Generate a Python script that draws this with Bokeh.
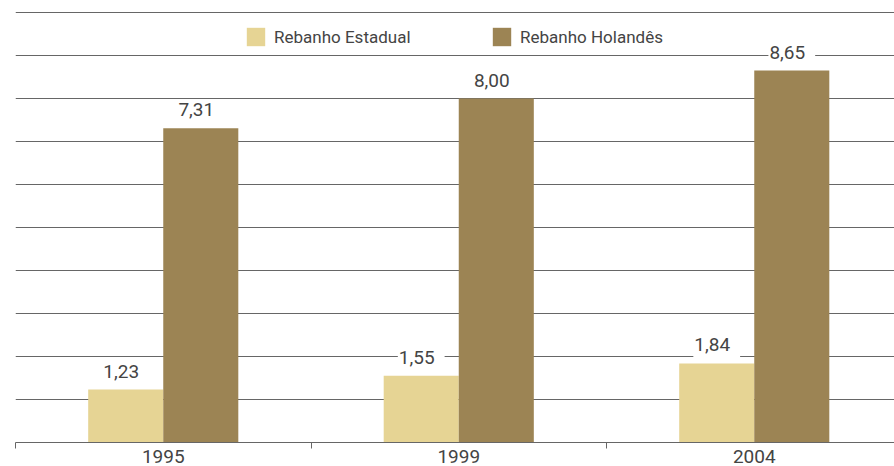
from bokeh.plotting import figure
from bokeh.models import ColumnDataSource, Range1d, FixedTicker, Legend, LegendItem
from bokeh.core.properties import value
from bokeh.embed import file_html
from bokeh.resources import INLINE

years = ["1995", "1999", "2004"]
estadual = [1.23, 1.55, 1.84]
holandes = [7.31, 8.00, 8.65]
series_names = ["Rebanho Estadual", "Rebanho Holandês"]
grid_values = [1, 2, 3, 4, 5, 6, 7, 8, 9, 10]

C_EST = "#e6d494"
C_HOL = "#9c8454"
FONT = "Roboto"
TXT = "#444444"
GRID = "#666666"

idx = list(range(len(years)))
bw = 0.254

src_e = ColumnDataSource(dict(x=[i - bw / 2 for i in idx], top=estadual,
                              lab=[f"{v:.2f}".replace(".", ",") for v in estadual]))
src_h = ColumnDataSource(dict(x=[i + bw / 2 for i in idx], top=holandes,
                              lab=[f"{v:.2f}".replace(".", ",") for v in holandes]))

p = figure(width=894, height=466, output_backend="svg", toolbar_location=None,
           x_range=Range1d(-0.5, 2.4746), y_range=Range1d(0, 10.28),
           min_border_left=15, min_border_right=0, min_border_top=0, min_border_bottom=24)
p.outline_line_color = None
p.background_fill_color = "white"
p.border_fill_color = "white"

p.xgrid.visible = False
p.yaxis.visible = False
p.ygrid.ticker = FixedTicker(ticks=grid_values)
p.ygrid.grid_line_color = GRID
p.ygrid.grid_line_width = 1

ax = p.xaxis[0]
ax.ticker = FixedTicker(ticks=idx, minor_ticks=[-0.5, 0.5, 1.5, 2.5])
ax.major_label_overrides = {i: y for i, y in zip(idx, years)}
ax.major_tick_line_color = None
ax.minor_tick_out = 6
ax.minor_tick_in = 0
ax.minor_tick_line_color = GRID
ax.axis_line_color = GRID
ax.axis_line_width = 1.2
ax.major_label_text_font = FONT
ax.major_label_text_font_size = "19px"
ax.major_label_text_color = TXT
ax.major_label_standoff = 1

r_e = p.vbar(x="x", top="top", width=bw, bottom=0, source=src_e,
             fill_color=C_EST, line_color=None)
r_h = p.vbar(x="x", top="top", width=bw, bottom=0, source=src_h,
             fill_color=C_HOL, line_color=None)

for src in (src_e, src_h):
    p.text(x="x", y="top", text="lab", source=src, text_align="center",
           text_baseline="bottom", y_offset=-2, text_font=value(FONT),
           text_font_size="19px", text_color=TXT,
           background_fill_color="white", padding=[1, 10, 0, 10])

for r, name, xloc in ((r_e, series_names[0], 229), (r_h, series_names[1], 475)):
    lg = Legend(items=[LegendItem(label=name, renderers=[r])], location=(xloc, 394),
                orientation="horizontal", glyph_width=23, glyph_height=23,
                label_standoff=7, padding=0, margin=0, border_line_color=None,
                background_fill_alpha=0, label_text_font=FONT,
                label_text_font_size="17px", label_text_color=TXT)
    p.add_layout(lg)

open("out.html", "w").write(file_html(p, INLINE))
